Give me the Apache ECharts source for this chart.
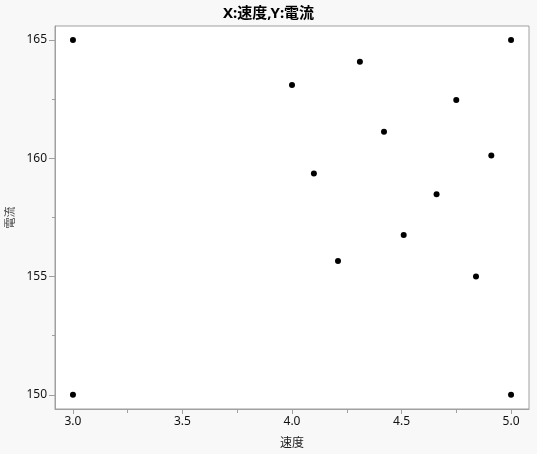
<!DOCTYPE html>
<html>
<head>
<meta charset="utf-8">
<script src="https://cdn.jsdelivr.net/npm/echarts@6/dist/echarts.min.js"></script>
<style>
  html, body { margin: 0; padding: 0; background: #f8f8f8; }
  #container { width: 537px; height: 454px; }
</style>
</head>
<body>
<div id="container"></div>
<script>
var dom = document.getElementById('container');
var myChart = echarts.init(dom, null, { renderer: 'canvas' });

// 速度 (X) and 電流 (Y) readings
var speed   = [3.0, 3.0, 4.0, 4.1, 4.21, 4.31, 4.42, 4.51, 4.66, 4.75, 4.84, 4.91, 5.0, 5.0];
var current = [165, 150, 163.1, 159.35, 155.66, 164.08, 161.12, 156.75, 158.48, 162.46, 155.0, 160.12, 165, 150];

var xMajor = [3.0, 3.5, 4.0, 4.5, 5.0];
var xMinor = [3.25, 3.75, 4.25, 4.75];
var yMajor = [150, 155, 160, 165];
var yMinor = [152.5, 157.5, 162.5];

var points = speed.map(function (s, i) { return [s, current[i]]; });

var fontFam = '"Noto Sans", "Noto Sans CJK JP", sans-serif';
var cjkFam = '"Noto Sans CJK JP", sans-serif';
var lineColor = '#a0a0a0';
var xRange = { min: 2.918, max: 5.082 };
var yRange = { min: 149.4, max: 165.59 };

var option = {
    backgroundColor: '#f8f8f8',
    title: {
        text: 'X:速度,Y:電流',
        left: 'center',
        top: 1,
        textStyle: { fontSize: 15, fontWeight: 'bold', color: '#000', fontFamily: fontFam }
    },
    grid: {
        left: 55, right: 8, top: 26, bottom: 45,
        outerBoundsMode: 'none',
        containLabel: false,
        show: true,
        backgroundColor: '#ffffff',
        borderColor: lineColor,
        borderWidth: 1
    },
    xAxis: [
        {
            type: 'value',
            min: xRange.min, max: xRange.max,
            name: '速度',
            nameLocation: 'middle',
            nameGap: 27,
            nameTextStyle: { fontSize: 12, color: '#222', fontFamily: cjkFam },
            axisLine: { show: true, lineStyle: { color: lineColor } },
            axisTick: { show: true, length: 5, customValues: xMajor, lineStyle: { color: lineColor } },
            axisLabel: {
                customValues: xMajor,
                fontSize: 12, color: '#111', fontFamily: fontFam, margin: 7,
                formatter: function (v) { return v.toFixed(1); }
            },
            splitLine: { show: false }
        },
        {
            type: 'value',
            position: 'bottom',
            min: xRange.min, max: xRange.max,
            axisLine: { show: false },
            axisTick: { show: true, length: 4, customValues: xMinor, lineStyle: { color: lineColor } },
            axisLabel: { show: false },
            splitLine: { show: false }
        }
    ],
    yAxis: [
        {
            type: 'value',
            min: yRange.min, max: yRange.max,
            name: '電流',
            nameLocation: 'middle',
            nameGap: 33,
            nameTextStyle: { fontSize: 11, color: '#444', fontFamily: cjkFam },
            axisLine: { show: true, lineStyle: { color: lineColor } },
            axisTick: { show: true, length: 6, customValues: yMajor, lineStyle: { color: lineColor } },
            axisLabel: {
                customValues: yMajor,
                fontSize: 12, color: '#111', fontFamily: fontFam, margin: 8
            },
            splitLine: { show: false }
        },
        {
            type: 'value',
            position: 'left',
            min: yRange.min, max: yRange.max,
            axisLine: { show: false },
            axisTick: { show: true, length: 3, customValues: yMinor, lineStyle: { color: lineColor } },
            axisLabel: { show: false },
            splitLine: { show: false }
        }
    ],
    series: [
        {
            name: '電流',
            type: 'scatter',
            xAxisIndex: 0,
            yAxisIndex: 0,
            symbol: 'circle',
            symbolSize: 6,
            itemStyle: { color: '#000', opacity: 1 },
            data: points
        }
    ]
};

myChart.setOption(option);
window.addEventListener('resize', myChart.resize);
</script>
</body>
</html>
